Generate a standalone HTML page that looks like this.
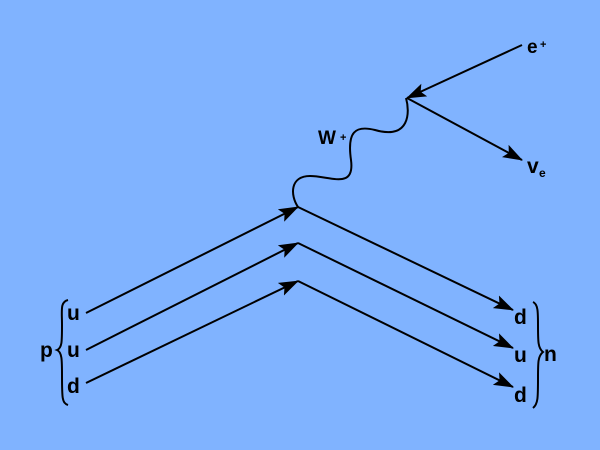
<!DOCTYPE html>
<html><head><style>
html,body{margin:0;padding:0;background:#80b3ff;overflow:hidden;}
svg{display:block;}
svg text{font-family:"Liberation Sans",sans-serif;font-weight:bold;fill:#000;}
</style></head><body>
<svg width="600" height="450" viewBox="0 0 600 450" xmlns="http://www.w3.org/2000/svg">
<defs>
<marker id="a" markerWidth="20" markerHeight="14" refX="19" refY="7" orient="auto" markerUnits="userSpaceOnUse">
<path d="M0,0 L20,7 L0,14 L4,7 Z" fill="#000"/>
</marker>
</defs>
<g stroke="#000" stroke-width="2" fill="none">
<line x1="86" y1="313" x2="298" y2="207" marker-end="url(#a)"/>
<line x1="86" y1="350" x2="298" y2="243" marker-end="url(#a)"/>
<line x1="86" y1="383" x2="298" y2="281" marker-end="url(#a)"/>
<line x1="298" y1="207" x2="513" y2="310" marker-end="url(#a)"/>
<line x1="298" y1="243" x2="513" y2="348" marker-end="url(#a)"/>
<line x1="298" y1="281" x2="513" y2="387" marker-end="url(#a)"/>
<line x1="522" y1="45" x2="407" y2="98" marker-end="url(#a)"/>
<line x1="407" y1="98" x2="522" y2="160" marker-end="url(#a)"/>
<path d="M298,207 C290,195 290,176 310,176 C330,176 355,190 351,160 C347,132 355,125 375,130 C410,140 410,112 406,98"/>
<path d="M68,300 C60,302 62,310 62,325 C62,342 62,348 57,350 C62,352 62,360 62,375 C62,398 62,403 68,405"/>
<path d="M533,302 C538,304 538,312 538,325 C538,342 538,348 543,352 C538,356 538,362 538,378 C538,398 538,404 533,408"/>
</g>
<text x="67" y="320" font-size="21">u</text>
<text x="67" y="357" font-size="21">u</text>
<text x="67" y="393" font-size="21">d</text>
<text x="40" y="357" font-size="21">p</text>
<text x="514" y="324" font-size="21">d</text>
<text x="514" y="362" font-size="21">u</text>
<text x="514" y="402" font-size="21">d</text>
<text x="544" y="361" font-size="21">n</text>
<text x="527" y="53" font-size="19">e</text><text x="540" y="48" font-size="11">+</text>
<text x="527" y="173" font-size="21">v</text><text x="539" y="177" font-size="12">e</text>
<text x="318" y="144" font-size="19">W</text><text x="340" y="141" font-size="11">+</text>
</svg>
</body></html>
